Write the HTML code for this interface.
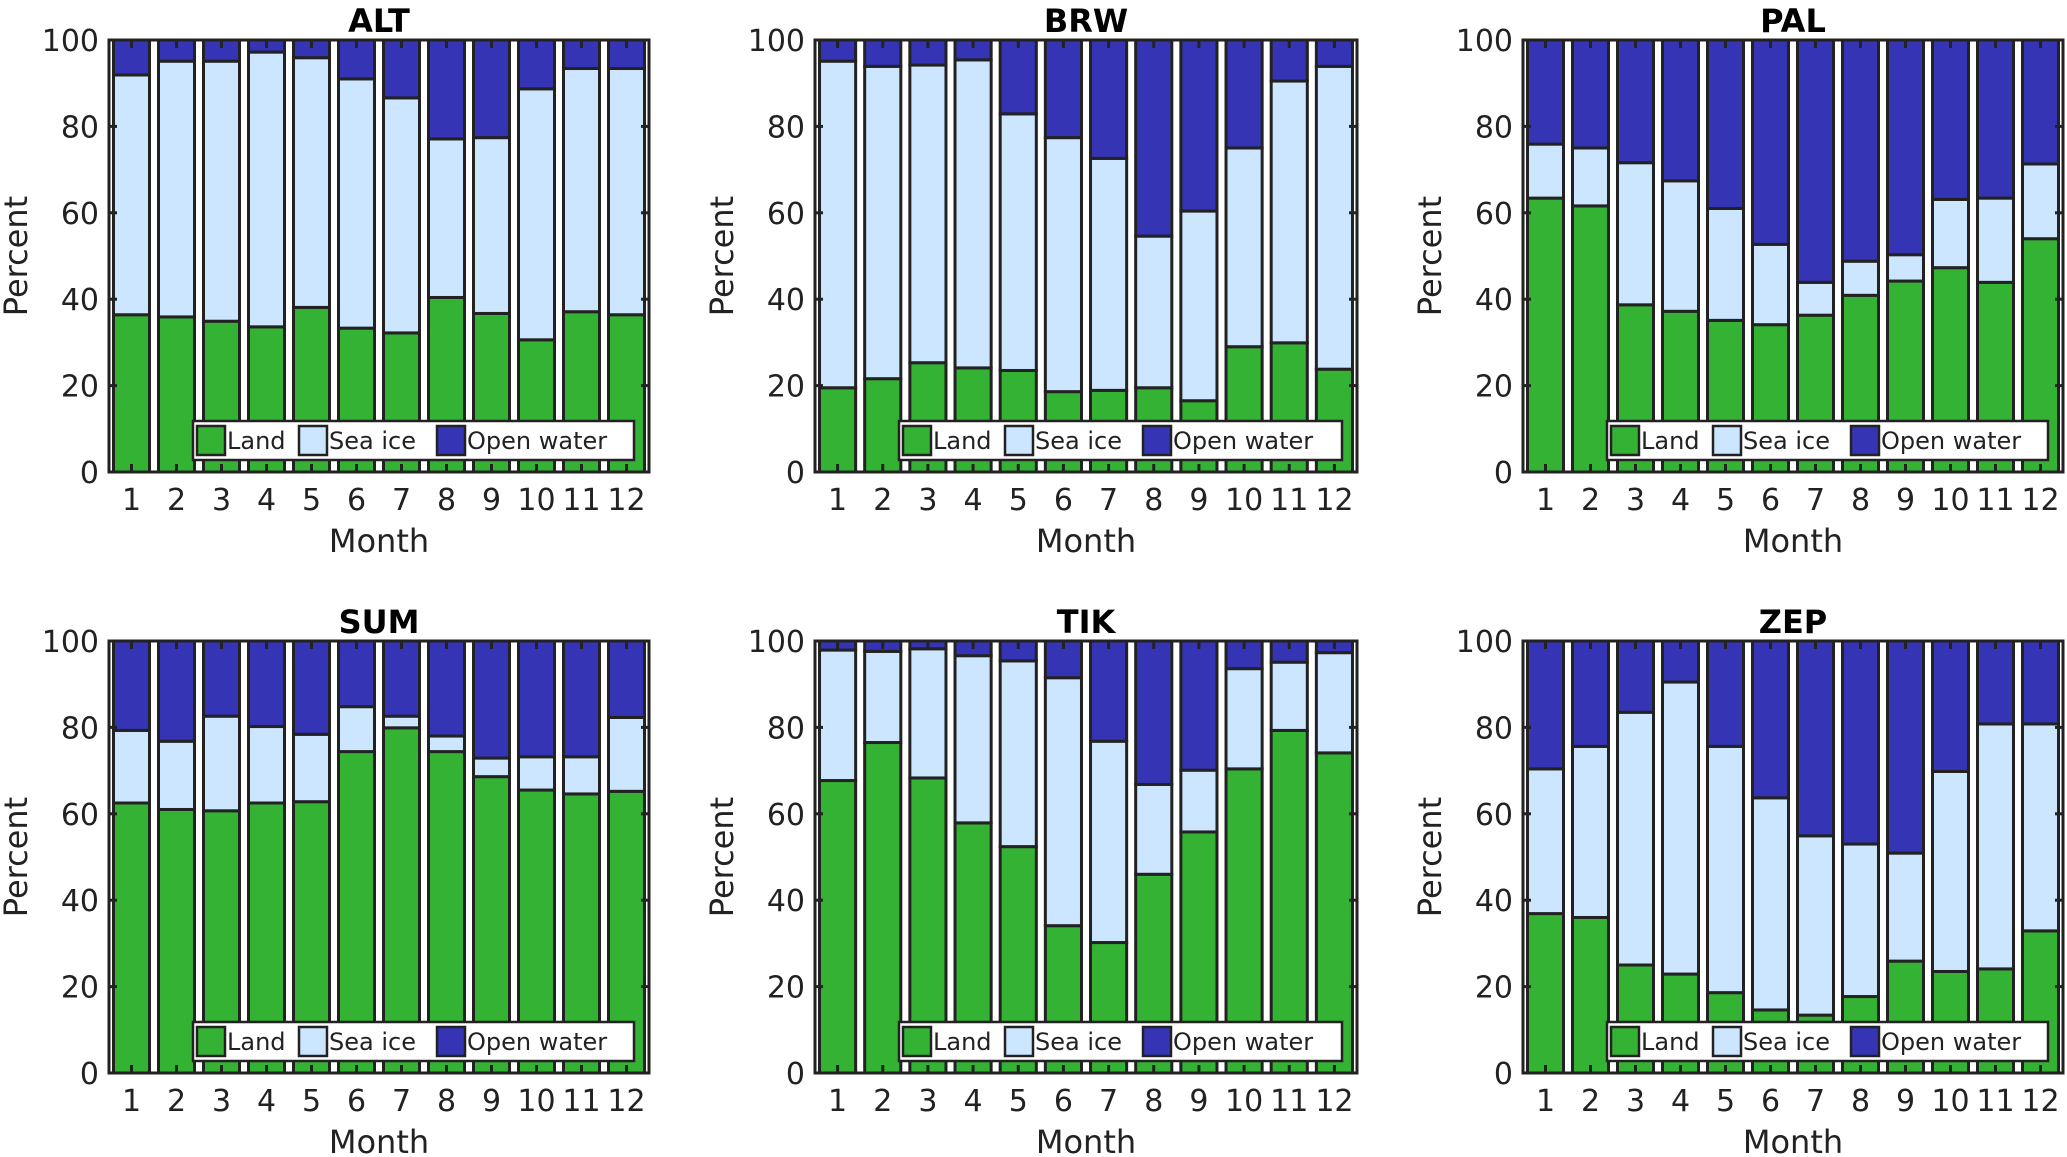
<!DOCTYPE html>
<html><head><meta charset="utf-8">
<style>
html,body{margin:0;padding:0;background:#fff;}
svg{display:block;font-family:"DejaVu Sans","Liberation Sans",sans-serif;}
</style></head>
<body>
<svg id="fig" width="2067" height="1157" viewBox="0 0 2067 1157" xmlns="http://www.w3.org/2000/svg"></svg>
<script>
const months = [1,2,3,4,5,6,7,8,9,10,11,12];
const yTicks = [0,20,40,60,80,100];
const stations = ["ALT","BRW","PAL","SUM","TIK","ZEP"];
const altLand = [36.4,35.9,34.9,33.6,38.1,33.3,32.2,40.4,36.7,30.6,37.1,36.4];
const altIce  = [55.5,59.2,60.2,63.6,57.8,57.7,54.4,36.7,40.7,58.1,56.3,57.0];
const brwLand = [19.5,21.6,25.3,24.1,23.5,18.6,18.9,19.5,16.5,29.0,29.9,23.8];
const brwIce  = [75.6,72.3,68.9,71.3,59.4,58.8,53.7,35.1,43.9,46.0,60.6,70.1];
const palLand = [63.4,61.6,38.7,37.2,35.1,34.1,36.3,40.9,44.2,47.3,43.9,54.0];
const palIce  = [12.5,13.4,32.9,30.2,25.9,18.6,7.6,7.9,6.1,15.8,19.5,17.3];
const sumLand = [62.5,61.0,60.7,62.5,62.8,74.4,79.9,74.4,68.6,65.5,64.6,65.2];
const sumIce  = [16.8,15.8,21.9,17.7,15.6,10.4,2.7,3.6,4.3,7.7,8.6,17.1];
const tikLand = [67.7,76.5,68.3,57.9,52.4,34.1,30.2,46.0,55.8,70.4,79.3,74.1];
const tikIce  = [30.2,21.1,29.9,38.7,43.0,57.4,46.6,20.8,14.3,23.2,15.8,23.2];
const zepLand = [36.9,36.0,25.0,22.9,18.6,14.6,13.4,17.7,25.9,23.5,24.1,32.9];
const zepIce  = [33.5,39.6,58.5,67.6,57.0,49.1,41.5,35.3,25.0,46.3,56.7,47.9];
const landSeries = [altLand,brwLand,palLand,sumLand,tikLand,zepLand];
const iceSeries = [altIce,brwIce,palIce,sumIce,tikIce,zepIce];

const C_LAND="#34b233", C_ICE="#cce6ff", C_WATER="#3434b4";
const NS="http://www.w3.org/2000/svg";
const svg=document.getElementById('fig');
function mk(tag,attrs,parent){const e=document.createElementNS(NS,tag);for(const k in attrs)e.setAttribute(k,attrs[k]);(parent||svg).appendChild(e);return e;}

const lefts=[109,815,1523], rights=[649,1357,2063];
const tops=[40,641], bottoms=[472,1073];

stations.forEach((st,i)=>{
  const col=i%3,row=Math.floor(i/3);
  const L=lefts[col],R=rights[col],T=tops[row],B=bottoms[row];
  const g=mk('g',{});
  
  
  const xs=v=>L+(v-0.5)/12*(R-L);
  const ys=v=>B-v/100*(B-T);
  const bw=0.8*(R-L)/12;
  months.forEach((m,j)=>{
    const land=landSeries[i][j], ice=iceSeries[i][j];
    const x0=xs(m)-bw/2;
    const segs=[[0,land,C_LAND,'land'],[land,land+ice,C_ICE,'sea-ice'],[land+ice,100,C_WATER,'open-water']];
    segs.forEach(s=>{
      const r=mk('rect',{x:x0,y:ys(s[1]),width:bw,height:ys(s[0])-ys(s[1]),fill:s[2],stroke:'#222',"stroke-width":3},g);
      
      
    });
  });
  yTicks.forEach(t=>{
    mk('line',{x1:L,x2:L+8,y1:ys(t),y2:ys(t),stroke:'#222',"stroke-width":3},g);
    mk('line',{x1:R,x2:R-8,y1:ys(t),y2:ys(t),stroke:'#222',"stroke-width":3},g);
    const tx=mk('text',{x:L-10,y:ys(t)+11,"text-anchor":"end","font-size":30,fill:'#222'},g);
    tx.textContent=t;
    
    
  });
  months.forEach(m=>{
    mk('line',{x1:xs(m),x2:xs(m),y1:B,y2:B-8,stroke:'#222',"stroke-width":3},g);
    mk('line',{x1:xs(m),x2:xs(m),y1:T,y2:T+8,stroke:'#222',"stroke-width":3},g);
    const tx=mk('text',{x:xs(m),y:B+38,"text-anchor":"middle","font-size":30,fill:'#222'},g);
    tx.textContent=m;
    
    
  });
  const box=mk('rect',{x:L,y:T,width:R-L,height:B-T,fill:'none',stroke:'#222',"stroke-width":3},g);
  
  
  const title=mk('text',{x:(L+R)/2,y:T-8,"text-anchor":"middle","font-size":32,"font-weight":"bold",fill:'#000'},g);
  title.textContent=st;
  
  
  const xl=mk('text',{x:(L+R)/2,y:B+80,"text-anchor":"middle","font-size":32,fill:'#222'},g);
  xl.textContent='Month';
  
  
  const yx=L-82, yy=(T+B)/2;
  const yl=mk('text',{x:yx,y:yy,"text-anchor":"middle","font-size":32,fill:'#222',transform:`rotate(-90 ${yx} ${yy})`},g);
  yl.textContent='Percent';
  
  
  const lg=mk('g',{},g);
  
  
  const lx=L+84, lx2=R-15, ly=B-51, ly2=B-12;
  mk('rect',{x:lx,y:ly,width:lx2-lx,height:ly2-ly,fill:'#fff',stroke:'#222',"stroke-width":2.5},lg);
  const items=[['Land',C_LAND,0],['Sea ice',C_ICE,102],['Open water',C_WATER,240]];
  items.forEach(it=>{
    const ex=lx+4+it[2];
    const sw=mk('rect',{x:ex,y:ly+5,width:28,height:ly2-ly-10,fill:it[1],stroke:'#222',"stroke-width":2.5},lg);
    
    
    const t=mk('text',{x:ex+30,y:ly+28,"font-size":24,fill:'#222'},lg);
    t.textContent=it[0];
    
    
  });
});
</script>
</body></html>
